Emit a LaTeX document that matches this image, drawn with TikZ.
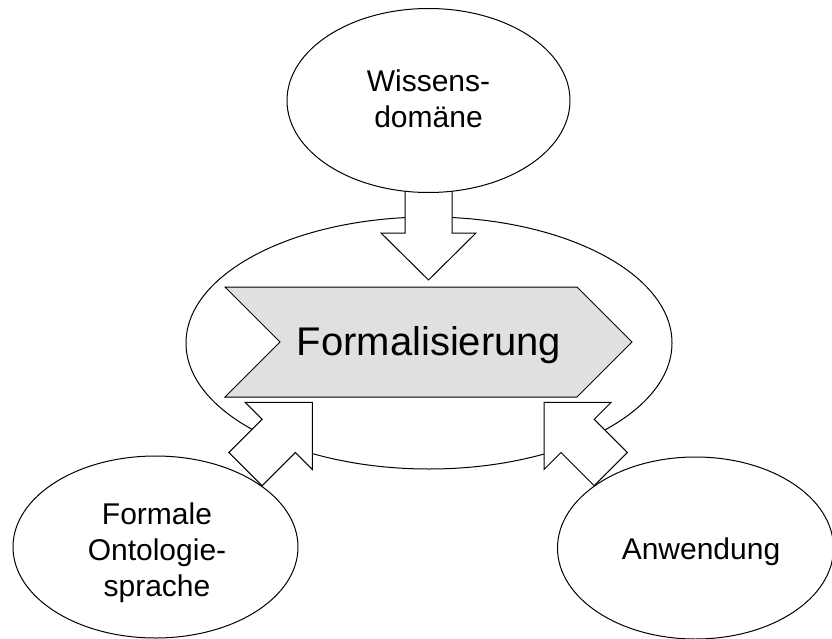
\documentclass[tikz,border=0pt]{standalone}
\usepackage{fontspec}
\setmainfont{Liberation Sans}
\usetikzlibrary{shapes.geometric}
\begin{document}
\begin{tikzpicture}[x=1pt, y=-1pt, line width=1pt,
  bubble/.style={draw, ellipse, fill=white, inner sep=0pt},
  fatarrow/.style={draw, fill=white, line join=miter},
  stepshape/.style={draw, fill=black!12, line join=miter},
  lbl/.style={font=\fontsize{30}{36}\selectfont, inner sep=0pt, anchor=base},
  biglbl/.style={font=\fontsize{40}{48}\selectfont, inner sep=0pt, anchor=base},
]
\useasboundingbox (0,0) rectangle (832,639);

% outer process ellipse
\node[bubble, minimum width=486pt, minimum height=252pt] (frame) at (429,343) {};

% downward block arrow from the knowledge domain
\draw[fatarrow] (405,188) -- (452,188) -- (452,233) -- (476,233) -- (428.5,280)
  -- (381,233) -- (405,233) -- cycle;

% block arrow from the ontology language (pointing up-right)
\draw[fatarrow] (312.3,402.3) -- (312.3,469.5) -- (295.3,452.5) -- (262.1,485.7)
  -- (228.9,452.5) -- (262.1,419.3) -- (245.1,402.3) -- cycle;

% block arrow from the application (pointing up-left)
\draw[fatarrow] (544,402.3) -- (611.2,402.3) -- (594.2,419.3) -- (627.4,452.5)
  -- (594.2,485.7) -- (561,452.5) -- (544,469.5) -- cycle;

% central chevron
\draw[stepshape] (225,287) -- (577,287) -- (632,342) -- (577,397) -- (225,397)
  -- (280,342) -- cycle;
\node[biglbl] (form) at (429,355.7) {Formalisierung};

% surrounding ellipses
\node[bubble, minimum width=283pt, minimum height=184pt] (domain) at (428.5,100.5) {};
\node[lbl] (domainA) at (428.5,92) {Wissens-};
\node[lbl] (domainB) at (428.5,128) {domäne};

\node[bubble, minimum width=285pt, minimum height=182pt] (lang) at (155.5,547) {};
\node[lbl] (langA) at (157,524) {Formale};
\node[lbl] (langB) at (157,560.5) {Ontologie-};
\node[lbl] (langC) at (157,596.5) {sprache};

\node[bubble, minimum width=276pt, minimum height=182pt] (app) at (695.5,548) {};
\node[lbl] (appA) at (701,559) {Anwendung};
\end{tikzpicture}
\end{document}
